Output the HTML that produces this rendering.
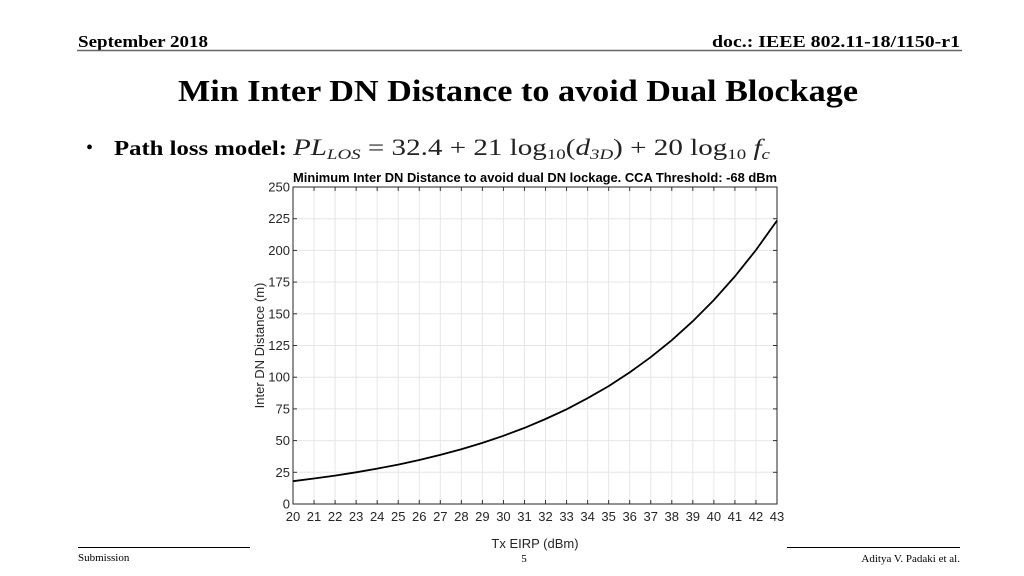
<!DOCTYPE html>
<html><head><meta charset="utf-8"><style>
html,body{margin:0;padding:0;background:#fff;}
svg{display:block;}
</style></head><body>
<svg id="page" width="1024" height="576" viewBox="0 0 1024 576" xmlns="http://www.w3.org/2000/svg">
<text x="78" y="47" font-family="Liberation Serif, serif" font-weight="bold" font-size="17" textLength="130" lengthAdjust="spacingAndGlyphs">September 2018</text>
<text x="960" y="47" text-anchor="end" font-family="Liberation Serif, serif" font-weight="bold" font-size="17" textLength="248" lengthAdjust="spacingAndGlyphs">doc.: IEEE 802.11-18/1150-r1</text>
<line x1="77" y1="50.5" x2="962" y2="50.5" stroke="#666" stroke-width="1.5"/>
<text x="518" y="101" text-anchor="middle" font-family="Liberation Serif, serif" font-weight="bold" font-size="31" textLength="680" lengthAdjust="spacingAndGlyphs">Min Inter DN Distance to avoid Dual Blockage</text>
<text x="86" y="154" font-family="Liberation Serif, serif" font-size="20">•</text>
<text x="114" y="155" font-family="Liberation Serif, serif" font-size="21" font-weight="bold" textLength="173" lengthAdjust="spacingAndGlyphs">Path loss model:</text>
<text x="293" y="155" font-family="Liberation Serif, serif" font-size="23" fill="#222" textLength="477" lengthAdjust="spacingAndGlyphs"><tspan font-style="italic">PL</tspan><tspan font-style="italic" font-size="15" dy="4">LOS</tspan><tspan dy="-4"> = 32.4 + 21 log</tspan><tspan font-size="15" dy="4">10</tspan><tspan dy="-4">(</tspan><tspan font-style="italic">d</tspan><tspan font-style="italic" font-size="15" dy="4">3D</tspan><tspan dy="-4">) + 20 log</tspan><tspan font-size="15" dy="4">10</tspan><tspan dy="-4" font-style="italic"> f</tspan><tspan font-style="italic" font-size="15" dy="4">c</tspan></text>
<g id="chart"></g>
<line x1="78" y1="547.5" x2="250" y2="547.5" stroke="#000" stroke-width="1"/>
<line x1="787" y1="547.5" x2="960" y2="547.5" stroke="#000" stroke-width="1"/>
<text x="78" y="561" font-family="Liberation Serif, serif" font-size="11">Submission</text>
<text x="524" y="562" text-anchor="middle" font-family="Liberation Serif, serif" font-size="11">5</text>
<text x="960" y="562" text-anchor="end" font-family="Liberation Serif, serif" font-size="11">Aditya V. Padaki et al.</text>
</svg>
<script>
const xCategories = [20,21,22,23,24,25,26,27,28,29,30,31,32,33,34,35,36,37,38,39,40,41,42,43];
const distanceValues = [18,20.1,22.4,25.0,27.9,31.1,34.7,38.7,43.2,48.2,53.8,60.0,67.0,74.7,83.4,93.0,103.8,115.8,129.2,144.2,160.9,179.5,200.3,223.5];
const yTicks = [0,25,50,75,100,125,150,175,200,225,250];

const NS = 'http://www.w3.org/2000/svg';
const g = document.getElementById('chart');
const L = 293, R = 777, T = 187, B = 504;
const xMin = 20, xMax = 43, yMin = 0, yMax = 250;
const xs = v => L + (v - xMin) / (xMax - xMin) * (R - L);
const ys = v => B - (v - yMin) / (yMax - yMin) * (B - T);
function mk(tag, attrs) { const e = document.createElementNS(NS, tag); for (const k in attrs) e.setAttribute(k, attrs[k]); g.appendChild(e); return e; }

const bg = mk('rect', {x: L, y: T, width: R - L, height: B - T, fill: '#fff'});



xCategories.forEach(v => {
  const x = xs(v);
  const gl = mk('line', {x1: x, y1: T, x2: x, y2: B, stroke: '#e6e6e6', 'stroke-width': 1});
  
  
  const tk = mk('line', {x1: x, y1: B, x2: x, y2: B - 4, stroke: '#333', 'stroke-width': 1});
  
  
  const tk2 = mk('line', {x1: x, y1: T, x2: x, y2: T + 4, stroke: '#333', 'stroke-width': 1});
  
  
  const t = mk('text', {x: x, y: B + 17, 'text-anchor': 'middle', 'font-family': 'Liberation Sans, sans-serif', 'font-size': 13, fill: '#262626'});
  t.textContent = v;
  
  
});
yTicks.forEach(v => {
  const y = ys(v);
  const gl = mk('line', {x1: L, y1: y, x2: R, y2: y, stroke: '#e6e6e6', 'stroke-width': 1});
  
  
  const tk = mk('line', {x1: L, y1: y, x2: L + 4, y2: y, stroke: '#333', 'stroke-width': 1});
  
  
  const tk2 = mk('line', {x1: R, y1: y, x2: R - 4, y2: y, stroke: '#333', 'stroke-width': 1});
  
  
  const t = mk('text', {x: L - 3, y: y + 4.5, 'text-anchor': 'end', 'font-family': 'Liberation Sans, sans-serif', 'font-size': 13, fill: '#262626'});
  t.textContent = v;
  
  
});
const frame = mk('rect', {x: L, y: T, width: R - L, height: B - T, fill: 'none', stroke: '#262626', 'stroke-width': 1});



const d = xCategories.map((v, i) => (i ? 'L' : 'M') + xs(v).toFixed(1) + ' ' + ys(distanceValues[i]).toFixed(1)).join(' ');
const line = mk('path', {d: d, fill: 'none', stroke: '#000', 'stroke-width': 1.8});



const title = mk('text', {x: (L + R) / 2, y: T - 5, 'text-anchor': 'middle', 'font-family': 'Liberation Sans, sans-serif', 'font-weight': 'bold', 'font-size': 13, fill: '#000', textLength: R - L, lengthAdjust: 'spacingAndGlyphs'});
title.textContent = 'Minimum Inter DN Distance to avoid dual DN lockage. CCA Threshold: -68 dBm';



const xt = mk('text', {x: (L + R) / 2, y: 548, 'text-anchor': 'middle', 'font-family': 'Liberation Sans, sans-serif', 'font-size': 13, fill: '#262626'});
xt.textContent = 'Tx EIRP (dBm)';



const yt = mk('text', {x: 0, y: 0, 'text-anchor': 'middle', 'font-family': 'Liberation Sans, sans-serif', 'font-size': 13, fill: '#262626', transform: 'translate(264,' + ((T + B) / 2) + ') rotate(-90)'});
yt.textContent = 'Inter DN Distance (m)';


</script>
</body></html>
